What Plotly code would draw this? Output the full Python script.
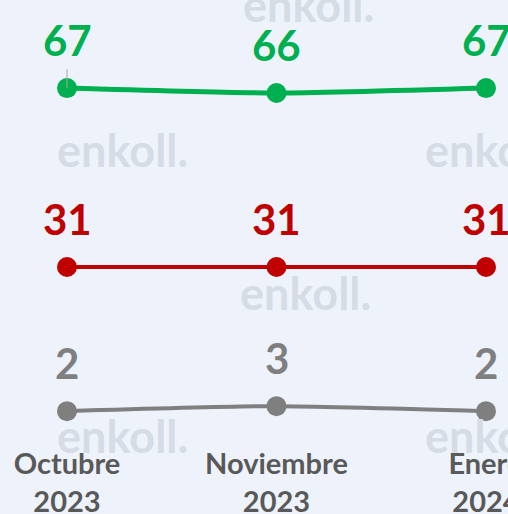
import plotly.graph_objects as go

periods = ["Octubre<br>2023", "Noviembre<br>2023", "Enero<br>2024"]
green_vals = [67, 66, 67]
red_vals = [31, 31, 31]
gray_vals = [2, 3, 2]

GREEN = "#00B050"
RED = "#C00000"
GRAY = "#7F7F7F"
BG = "#EEF3FB"
WM = "#D6DCE5"
FONT = "Lato"

W, H = 508, 514
PLOT_BOTTOM = 444  # pixel where plot area ends

xs = list(range(len(periods)))
fig = go.Figure()

# watermark (text part of logo) as a background text trace on pixel-scaled overlay axes
wm_x = [243, -125, 57, 425, 240, -128, 57, 425]
wm_y = [11, 11, 156, 156, 299, 299, 442, 442]
fig.add_trace(go.Scatter(
    x=wm_x, y=wm_y, xaxis="x2", yaxis="y2", mode="text",
    text=["<b>enkoll.</b>"] * len(wm_x), textposition="middle right",
    textfont=dict(family=FONT, size=45, color=WM),
    cliponaxis=False, hoverinfo="skip", showlegend=False))

series = [
    (green_vals, GREEN, 5, "spline"),
    (red_vals, RED, 4, "linear"),
    (gray_vals, GRAY, 4, "spline"),
]

annotations = []
for vals, col, lw, shape in series:
    fig.add_trace(go.Scatter(
        x=xs, y=vals, mode="lines+markers",
        line=dict(color=col, width=lw, shape=shape, smoothing=0.6),
        marker=dict(color=col, size=20, line=dict(width=0)),
        hoverinfo="skip", showlegend=False, cliponaxis=False))
    for xi, v in zip(xs, vals):
        annotations.append(dict(
            x=xi, y=v, xref="x", yref="y", text=f"<b>{v}</b>", showarrow=False,
            yshift=48, yanchor="middle",
            font=dict(family=FONT, size=42, color=col)))

fig.add_shape(type="line", xref="x", yref="y", x0=0, x1=0, ysizemode="pixel",
              yanchor=green_vals[0], y0=0, y1=19, line=dict(color="#A6A6A6", width=1))

px_per_cat = 209.5
x0_px = 67
xr = [(0 - x0_px) / px_per_cat, (W - x0_px) / px_per_cat]
ppu = 4.97
ref_v, ref_px = 31, 267
yr = [ref_v - (PLOT_BOTTOM - ref_px) / ppu, ref_v + ref_px / ppu]

fig.update_layout(
    width=W, height=H, autosize=False,
    margin=dict(l=0, r=0, t=0, b=H - PLOT_BOTTOM, pad=0, autoexpand=False),
    paper_bgcolor=BG, plot_bgcolor=BG,
    xaxis=dict(range=xr, tickvals=xs, ticktext=[f"<b>{p}</b>" for p in periods],
               showgrid=False, zeroline=False, showline=False, ticks="",
               ticklabeloverflow="allow", automargin=False,
               tickfont=dict(family=FONT, size=29, color="#595959")),
    yaxis=dict(range=yr, visible=False, showgrid=False, zeroline=False, automargin=False),
    xaxis2=dict(range=[0, W], overlaying="x", visible=False),
    yaxis2=dict(range=[PLOT_BOTTOM, 0], overlaying="y", visible=False),
    annotations=annotations,
)
post = (
    "document.documentElement.style.overflow='hidden';"
    "document.body.style.margin='0';document.body.style.overflow='hidden';"
)
fig.write_html(
    "out.html",
    config={"responsive": False, "displayModeBar": False},
    post_script=post,
)
